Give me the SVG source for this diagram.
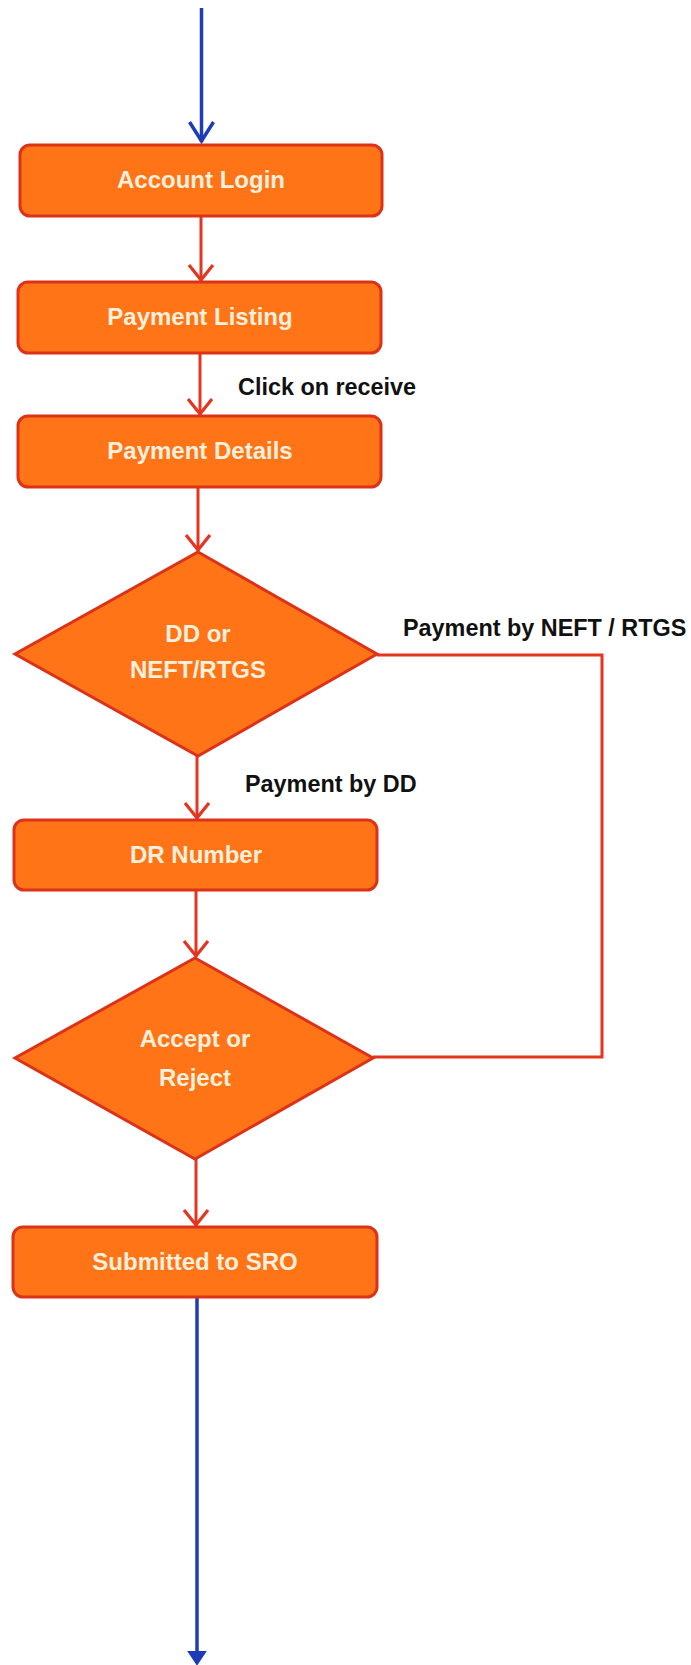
<svg xmlns="http://www.w3.org/2000/svg" width="691" height="1665" viewBox="0 0 691 1665">
<defs>
<style>
.box{fill:#FF7417;stroke:#DC3219;stroke-width:3}
.t{font-family:"Liberation Sans",Arial,sans-serif;font-weight:bold;font-size:24px;fill:#FFF0DC;text-anchor:middle}
.lbl{font-family:"Liberation Sans",Arial,sans-serif;font-weight:bold;font-size:23.4px;fill:#111111}
.red{stroke:#E5351E;stroke-width:3;fill:none}
.head{stroke:#E5351E;stroke-width:3.2;fill:none}
.blue{stroke:#1E3CB8;stroke-width:3.5;fill:none}
</style>
</defs>
<rect width="691" height="1665" fill="#FFFFFF"/>
<g id="connectors">
<line class="blue" x1="201.5" y1="8" x2="201.5" y2="142"/>
<path class="blue" d="M189.5,122 L201.5,141 L213.5,122"/>
<line class="red" x1="201" y1="216" x2="201" y2="281"/>
<path class="head" d="M189,265 L201,280 L213,265"/>
<line class="red" x1="200" y1="353" x2="200" y2="415"/>
<path class="head" d="M188,399 L200,414 L212,399"/>
<line class="red" x1="198" y1="487" x2="198" y2="551"/>
<path class="head" d="M186,535 L198,550 L210,535"/>
<line class="red" x1="197" y1="756" x2="197" y2="819"/>
<path class="head" d="M185,803 L197,818 L209,803"/>
<line class="red" x1="196" y1="890" x2="196" y2="957"/>
<path class="head" d="M184,941 L196,956 L208,941"/>
<line class="red" x1="196" y1="1159" x2="196" y2="1226"/>
<path class="head" d="M184,1210 L196,1225 L208,1210"/>
<polyline class="red" points="377,655 602,655 602,1057 373,1057"/>
<line class="blue" x1="197" y1="1297" x2="197" y2="1662"/>
<path d="M189,1652 L197,1664 L205,1652 Z" fill="#1E3CB8" stroke="#1E3CB8" stroke-width="2"/>
</g>
<g id="account-login">
<rect class="box" x="20" y="145" width="362" height="71" rx="10"/>
<text class="t" x="201" y="188">Account Login</text>
</g>
<g id="payment-listing">
<rect class="box" x="18" y="282" width="363" height="71" rx="10"/>
<text class="t" x="200" y="325">Payment Listing</text>
</g>
<g id="payment-details">
<rect class="box" x="18" y="416" width="363" height="71" rx="10"/>
<text class="t" x="200" y="459">Payment Details</text>
</g>
<g id="dd-or-neft">
<polygon class="box" points="198,552 377,654 198,756 15,654"/>
<text class="t" x="198" y="642">DD or</text>
<text class="t" x="198" y="678">NEFT/RTGS</text>
</g>
<g id="dr-number">
<rect class="box" x="14" y="820" width="363" height="70" rx="10"/>
<text class="t" x="196" y="863">DR Number</text>
</g>
<g id="accept-reject">
<polygon class="box" points="195,958 373,1058 195,1159 15,1058"/>
<text class="t" x="195" y="1047">Accept or</text>
<text class="t" x="195" y="1086">Reject</text>
</g>
<g id="submitted-sro">
<rect class="box" x="13" y="1227" width="364" height="70" rx="10"/>
<text class="t" x="195" y="1270">Submitted to SRO</text>
</g>
<g id="labels">
<text class="lbl" x="238" y="395">Click on receive</text>
<text class="lbl" x="403" y="636">Payment by NEFT / RTGS</text>
<text class="lbl" x="245" y="792">Payment by DD</text>
</g>
</svg>
